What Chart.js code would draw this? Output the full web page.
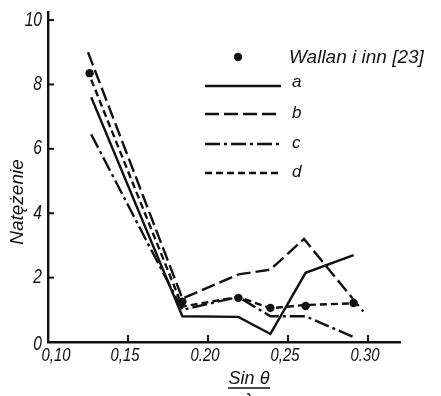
<!DOCTYPE html>
<html>
<head>
<meta charset="utf-8">
<script src="https://cdn.jsdelivr.net/npm/chart.js@4/dist/chart.umd.min.js"></script>
<style>
  html, body { margin: 0; padding: 0; background: #fff; }
  #wrap { width: 441px; height: 396px; position: relative; }
</style>
</head>
<body>
<div id="wrap"><canvas id="chart"></canvas></div>
<script>
/* ===== data ===== */
const sinX = [0.127, 0.184, 0.219, 0.239, 0.261, 0.291];
const bX = [0.125, 0.184, 0.219, 0.239, 0.260, 0.297];
const seriesA = [7.6, 0.8, 0.78, 0.25, 2.15, 2.7];
const seriesB = [9.0, 1.35, 2.1, 2.25, 3.2, 0.95];
const seriesC = [6.45, 1.0, 1.4, 0.8, 0.8, 0.15];
const seriesD = [8.15, 1.1, 1.4, 1.05, 1.15, 1.2];
const wallanX = [0.126, 0.184, 0.219, 0.239, 0.261, 0.291];
const wallanY = [8.35, 1.25, 1.37, 1.06, 1.12, 1.21];

const xTicks = [0.10, 0.15, 0.20, 0.25, 0.30];
const xTickLabels = ['0,10', '0,15', '0.20', '0,25', '0.30'];
const yTicks = [0, 2, 4, 6, 8, 10];
const yTickLabels = ['0', '2', '4', '6', '8', '10'];

const seriesNames = ['a', 'b', 'c', 'd'];
const wallanName = 'Wallan i inn [23]';

const dashes = { a: [], b: [14, 5], c: [15, 4, 3, 4], d: [7, 4] };
const INK = '#111';
const SANS = "'Liberation Sans', Arial, sans-serif";

function pts(xs, ys) {
  return xs.map((x, i) => ({ x: x, y: ys[i] }));
}

function lineSet(label, xs, ys) {
  return {
    label: label,
    data: pts(xs, ys),
    showLine: true,
    borderColor: INK,
    borderWidth: 2.4,
    borderDash: dashes[label],
    pointRadius: 0,
    fill: false,
    tension: 0
  };
}

// condensed italic text, like the printed figure
function narrowText(ctx, txt, x, y, align) {
  ctx.save();
  ctx.translate(x, y);
  ctx.scale(0.78, 1);
  ctx.textAlign = align;
  ctx.fillText(txt, 0, 0);
  ctx.restore();
}

// inside tick marks, tick labels, legend and axis titles
const decorPlugin = {
  id: 'decor',
  afterDraw(chart) {
    const ctx = chart.ctx;
    const xs = chart.scales.x, ys = chart.scales.y;
    ctx.save();
    ctx.strokeStyle = INK;
    ctx.fillStyle = INK;
    ctx.lineWidth = 2;
    ctx.setLineDash([]);
    ctx.textBaseline = 'middle';
    ctx.font = 'italic 20px ' + SANS;
    yTicks.forEach((v, i) => {
      const py = ys.getPixelForValue(v);
      if (v !== 0) {
        ctx.beginPath();
        ctx.moveTo(xs.left, py);
        ctx.lineTo(xs.left + 6, py);
        ctx.stroke();
      }
      narrowText(ctx, yTickLabels[i], xs.left - 6, py + (v === 0 ? 2 : 0), 'right');
    });
    ctx.font = 'italic 19px ' + SANS;
    xTicks.forEach((v, i) => {
      const px = xs.getPixelForValue(v);
      if (v !== 0.10) {
        ctx.beginPath();
        ctx.moveTo(px, ys.bottom);
        ctx.lineTo(px, ys.bottom - 7);
        ctx.stroke();
      }
      narrowText(ctx, xTickLabels[i], px + (i === 0 ? 8 : -3), ys.bottom + 14, 'center');
    });

    // legend
    ctx.textBaseline = 'alphabetic';
    ctx.beginPath();
    ctx.arc(238, 57, 4.2, 0, Math.PI * 2);
    ctx.fill();
    ctx.font = 'italic 19px ' + SANS;
    ctx.textAlign = 'left';
    ctx.fillText(wallanName, 289, 63);

    const rows = [86, 114, 144, 173];
    ctx.font = 'italic 17px ' + SANS;
    seriesNames.forEach((n, i) => {
      const y = rows[i];
      ctx.lineWidth = 2.4;
      ctx.setLineDash(dashes[n]);
      ctx.beginPath();
      ctx.moveTo(205, y);
      ctx.lineTo(281, y);
      ctx.stroke();
      ctx.setLineDash([]);
      ctx.fillText(n, 292, y + (i === 0 ? 1 : 4));
    });

    // y title
    ctx.save();
    ctx.translate(23, 202);
    ctx.rotate(-Math.PI / 2);
    ctx.textAlign = 'center';
    ctx.font = 'italic 19px ' + SANS;
    ctx.fillText('Natężenie', 0, 0);
    ctx.restore();

    // x title as a fraction
    ctx.textAlign = 'center';
    ctx.font = 'italic 18px ' + SANS;
    ctx.fillText('Sin θ', 249, 384);
    ctx.lineWidth = 1.6;
    ctx.beginPath();
    ctx.moveTo(228, 388);
    ctx.lineTo(270, 388);
    ctx.stroke();
    ctx.fillText('λ', 249, 406);
    ctx.restore();
  }
};

const chart = new Chart(document.getElementById('chart'), {
  type: 'scatter',
  data: {
    datasets: [
      lineSet('a', sinX, seriesA),
      lineSet('b', bX, seriesB),
      lineSet('c', sinX, seriesC),
      lineSet('d', sinX, seriesD),
      {
        label: wallanName,
        data: pts(wallanX, wallanY),
        showLine: false,
        pointRadius: 4.2,
        pointBackgroundColor: INK,
        pointBorderColor: INK,
        pointBorderWidth: 0
      }
    ]
  },
  options: {
    responsive: true,
    maintainAspectRatio: false,
    animation: false,
    layout: { padding: { left: 0, right: 41, top: 12, bottom: 0 } },
    plugins: { legend: { display: false }, tooltip: { enabled: false } },
    scales: {
      x: {
        type: 'linear',
        min: 0.10,
        max: 0.32,
        afterFit: s => { s.height = 54; },
        afterBuildTicks: s => { s.ticks = xTicks.map(v => ({ value: v })); },
        grid: { display: false, drawTicks: false },
        border: { display: true, width: 2.4, color: INK },
        ticks: { display: false }
      },
      y: {
        min: 0,
        max: 10.25,
        afterFit: s => { s.width = 48; },
        afterBuildTicks: s => { s.ticks = yTicks.map(v => ({ value: v })); },
        grid: { display: false, drawTicks: false },
        border: { display: true, width: 2.4, color: INK },
        ticks: { display: false }
      }
    }
  },
  plugins: [decorPlugin]
});
</script>
</body>
</html>
